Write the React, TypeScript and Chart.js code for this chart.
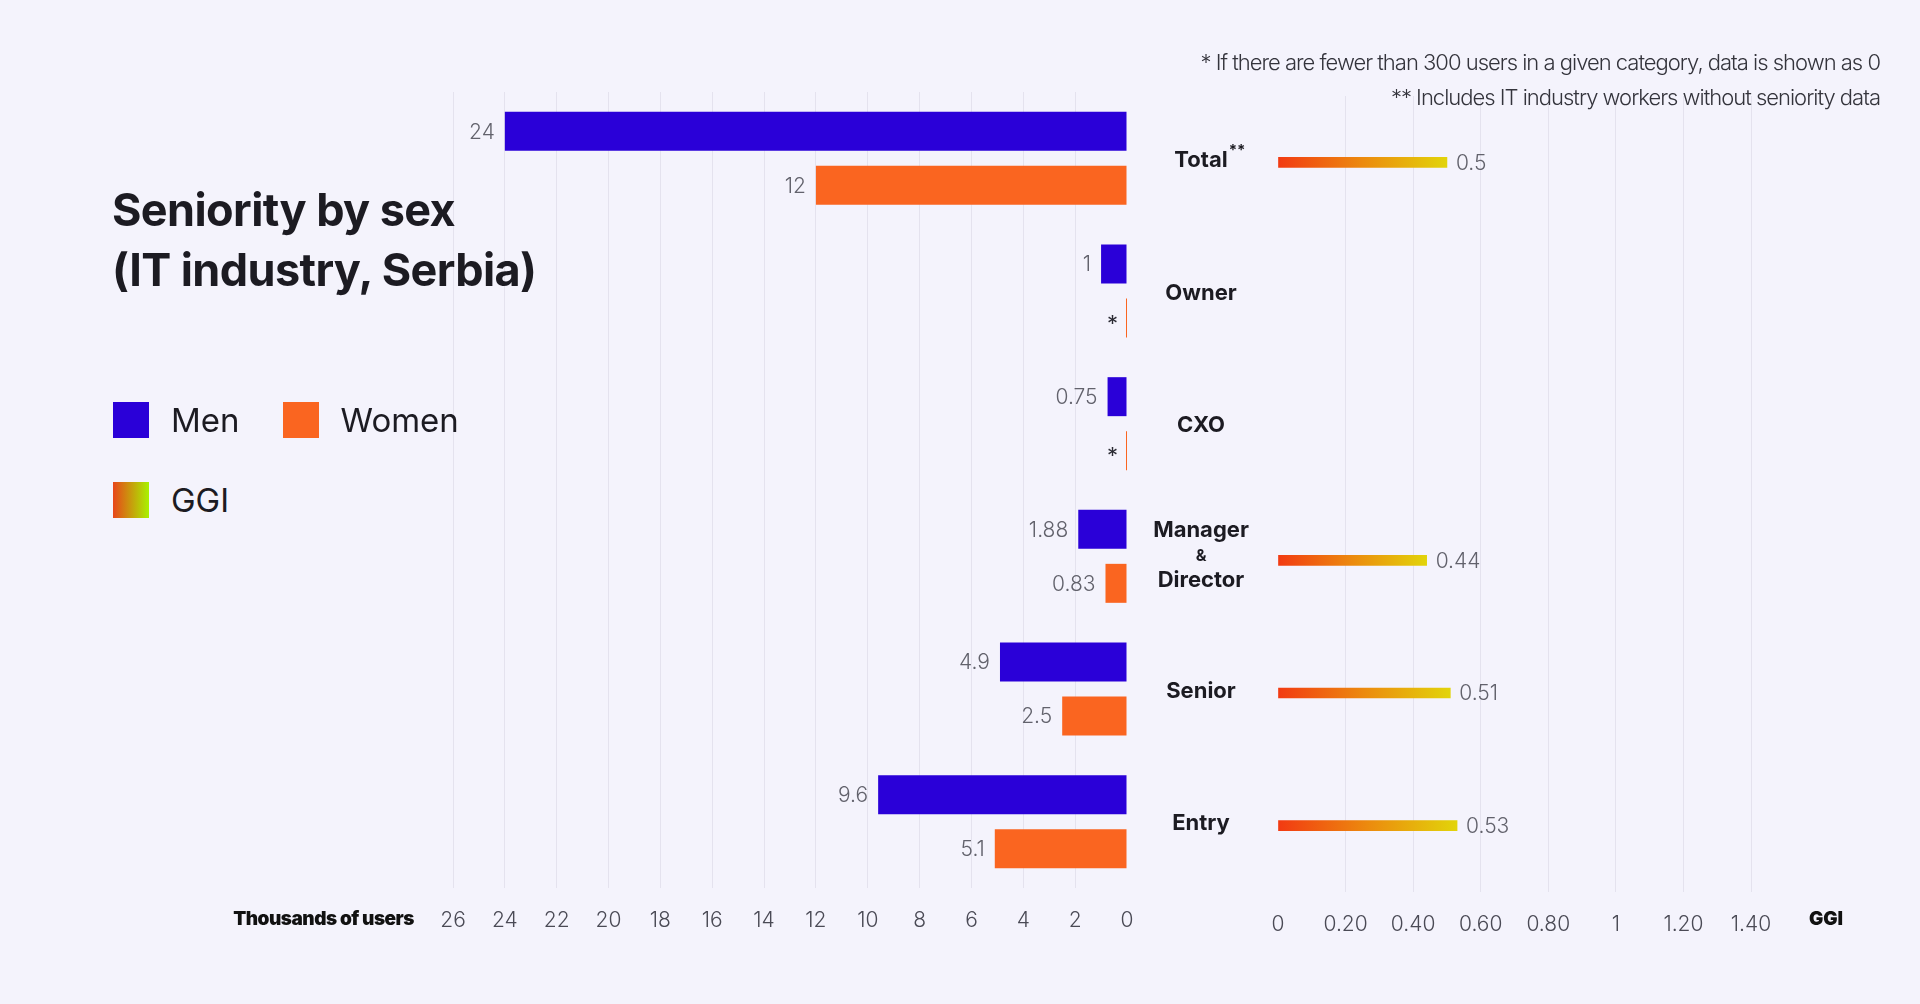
import React, { useEffect, useRef } from 'react';
import { Chart, registerables } from 'chart.js';

Chart.register(...registerables);

const categories = ['Total', 'Owner', 'CXO', 'Manager & Director', 'Senior', 'Entry'];
const categoryLines = [['Total'], ['Owner'], ['CXO'], ['Manager', '&', 'Director'], ['Senior'], ['Entry']];

const menValues = [24, 1, 0.75, 1.88, 4.9, 9.6];
const womenValues = [12, 0, 0, 0.83, 2.5, 5.1];
const menLabels = ['24', '1', '0.75', '1.88', '4.9', '9.6'];
const womenLabels = ['12', '*', '*', '0.83', '2.5', '5.1'];

const ggiValues = [0.5, null, null, 0.44, 0.51, 0.53];
const ggiLabels = ['0.5', '', '', '0.44', '0.51', '0.53'];

const userTickLabels = ['0', '2', '4', '6', '8', '10', '12', '14', '16', '18', '20', '22', '24', '26'];
const ggiTickLabels = ['0', '0.20', '0.40', '0.60', '0.80', '1', '1.20', '1.40'];

const BG = '#f4f3fc';
const GRID = '#e4e2ee';
const MEN = '#2a00d8';
const WOMEN = '#fa6520';
const INK = '#1c1b22';
const TICK = '#4a4a55';
const VALUE = '#62626c';

const tickFont = { family: 'Inter', size: 21, weight: '300' as const };

// value labels + category names for the users chart
const usersLabels = {
  id: 'usersLabels',
  afterDatasetsDraw(chart: any) {
    const { ctx, chartArea } = chart;
    ctx.save();
    ctx.textBaseline = 'middle';
    ctx.textAlign = 'right';
    [menLabels, womenLabels].forEach((labels, di) => {
      chart.getDatasetMeta(di).data.forEach((bar: any, i: number) => {
        const t = labels[i];
        if (t === '*') {
          ctx.font = '400 22px Inter';
          ctx.fillStyle = '#2a2a33';
          ctx.fillText(t, bar.x - 10, bar.y + 6);
        } else {
          ctx.font = '300 21px Inter';
          ctx.fillStyle = VALUE;
          ctx.fillText(t, bar.x - 10, bar.y + 1);
        }
      });
    });

    const y = chart.scales.y;
    const cx = chartArea.right + 74;
    ctx.textAlign = 'center';
    ctx.fillStyle = INK;
    categoryLines.forEach((lines, i) => {
      const cy = y.getPixelForValue(i);
      if (lines.length === 1) {
        ctx.font = '700 22px Inter';
        ctx.fillText(lines[0], cx, cy + 2);
        if (i === 0) {
          const w = ctx.measureText(lines[0]).width;
          ctx.font = '700 15px Inter';
          ctx.textAlign = 'left';
          ctx.fillText('**', cx + w / 2 + 1, cy - 8);
          ctx.textAlign = 'center';
        }
      } else {
        const offs = [-26, 0, 24];
        lines.forEach((ln, k) => {
          ctx.font = ln === '&' ? '700 16px Inter' : '700 22px Inter';
          ctx.fillText(ln, cx, cy + offs[k]);
        });
      }
    });
    ctx.restore();
  },
};

const ggiValueLabels = {
  id: 'ggiValueLabels',
  afterDatasetsDraw(chart: any) {
    const { ctx } = chart;
    ctx.save();
    ctx.textBaseline = 'middle';
    ctx.textAlign = 'left';
    ctx.font = '300 21px Inter';
    ctx.fillStyle = VALUE;
    chart.getDatasetMeta(0).data.forEach((bar: any, i: number) => {
      if (ggiValues[i] == null) return;
      ctx.fillText(ggiLabels[i], bar.x + 9, bar.y + 1);
    });
    ctx.restore();
  },
};

const App: React.FC = () => {
  const usersRef = useRef<HTMLCanvasElement | null>(null);
  const ggiRef = useRef<HTMLCanvasElement | null>(null);

  useEffect(() => {
    if (!usersRef.current || !ggiRef.current) return;

    const usersChart = new Chart(usersRef.current, {
      type: 'bar',
      data: {
        labels: categories,
        datasets: [
          {
            label: 'Men',
            data: menValues,
            backgroundColor: MEN,
            categoryPercentage: 0.814,
            barPercentage: 0.722,
          },
          {
            label: 'Women',
            data: womenValues,
            backgroundColor: WOMEN,
            categoryPercentage: 0.814,
            barPercentage: 0.722,
            minBarLength: 2,
          },
        ],
      },
      options: {
        indexAxis: 'y',
        animation: false,
        responsive: true,
        maintainAspectRatio: false,
        layout: { padding: { left: 73, right: 133, top: 92, bottom: 76 } },
        plugins: { legend: { display: false }, tooltip: { enabled: false } },
        scales: {
          x: {
            reverse: true,
            min: 0,
            max: 26,
            afterFit: (s: any) => { s.height = 40; },
            grid: {
              color: (c: any) => (c.tick && c.tick.value === 0 ? 'rgba(0,0,0,0)' : GRID),
              drawTicks: false,
            },
            border: { display: false },
            ticks: {
              stepSize: 2,
              autoSkip: false,
              maxRotation: 0,
              padding: 20,
              color: TICK,
              font: tickFont,
              callback: (v: any) => userTickLabels[Math.round(Number(v) / 2)],
            },
          },
          y: { display: false },
        },
      },
      plugins: [usersLabels],
    });

    const ggiChart = new Chart(ggiRef.current, {
      type: 'bar',
      data: {
        labels: categories,
        datasets: [
          {
            label: 'GGI',
            data: ggiValues,
            barThickness: 10,
            backgroundColor: (c: any) => {
              const chart = c.chart;
              const x = chart.scales && chart.scales.x;
              const v = ggiValues[c.dataIndex];
              if (!x || v == null) return '#ec8a0e';
              const x0 = x.getPixelForValue(0);
              const x1 = x.getPixelForValue(v);
              if (!isFinite(x0) || !isFinite(x1) || x1 <= x0) return '#ec8a0e';
              const g = chart.ctx.createLinearGradient(x0, 0, x1, 0);
              g.addColorStop(0, '#f23a12');
              g.addColorStop(0.5, '#ec8a0e');
              g.addColorStop(1, '#e2d40a');
              return g;
            },
          },
        ],
      },
      options: {
        indexAxis: 'y',
        animation: false,
        responsive: true,
        maintainAspectRatio: false,
        layout: { padding: { left: 78, right: 169, top: 96, bottom: 72 } },
        plugins: { legend: { display: false }, tooltip: { enabled: false } },
        scales: {
          x: {
            min: 0,
            max: 1.4,
            afterFit: (s: any) => { s.height = 40; },
            grid: {
              color: (c: any) => (c.tick && c.tick.value === 0 ? 'rgba(0,0,0,0)' : GRID),
              drawTicks: false,
            },
            border: { display: false },
            ticks: {
              stepSize: 0.2,
              autoSkip: false,
              maxRotation: 0,
              padding: 20,
              color: TICK,
              font: tickFont,
              callback: (v: any) => ggiTickLabels[Math.round(Number(v) / 0.2)],
            },
          },
          y: { display: false },
        },
      },
      plugins: [ggiValueLabels],
    });

    return () => {
      usersChart.destroy();
      ggiChart.destroy();
    };
  }, []);

  const swatch = { width: 36, height: 36, display: 'inline-block' };
  const legendText = { fontSize: 33, color: INK, marginLeft: 22 };

  return (
    <div
      style={{
        position: 'absolute',
        left: 0,
        top: 0,
        width: 1920,
        height: 1004,
        background: BG,
        overflow: 'hidden',
        fontFamily: 'Inter, "Noto Sans", sans-serif',
      }}
    >
      <div style={{ position: 'absolute', left: 380, top: 0, width: 880, height: 1004 }}>
        <canvas ref={usersRef} />
      </div>
      <div style={{ position: 'absolute', left: 1200, top: 0, width: 720, height: 1004 }}>
        <canvas ref={ggiRef} />
      </div>

      <div
        style={{
          position: 'absolute',
          right: 40,
          top: 45,
          textAlign: 'right',
          fontSize: 22,
          fontWeight: 300,
          lineHeight: '35px',
          letterSpacing: '-1px',
          color: '#34343c',
        }}
      >
        <div>* If there are fewer than 300 users in a given category, data is shown as 0</div>
        <div>** Includes IT industry workers without seniority data</div>
      </div>

      <div
        style={{
          position: 'absolute',
          left: 112,
          top: 180,
          fontSize: 45,
          fontWeight: 700,
          lineHeight: '60px',
          letterSpacing: '-0.6px',
          color: INK,
        }}
      >
        <div>Seniority by sex</div>
        <div>(IT industry, Serbia)</div>
      </div>

      <div style={{ position: 'absolute', left: 113, top: 402, display: 'flex', alignItems: 'center', height: 36 }}>
        <span style={{ ...swatch, background: MEN }} />
        <span style={legendText}>Men</span>
        <span style={{ ...swatch, background: WOMEN, marginLeft: 43 }} />
        <span style={legendText}>Women</span>
      </div>
      <div style={{ position: 'absolute', left: 113, top: 482, display: 'flex', alignItems: 'center', height: 36 }}>
        <span style={{ ...swatch, background: 'linear-gradient(to right, #e8461a, #a8f200)' }} />
        <span style={legendText}>GGI</span>
      </div>

      <div
        style={{
          position: 'absolute',
          right: 1920 - 414,
          top: 906,
          fontSize: 19,
          fontWeight: 900,
          letterSpacing: '-0.5px',
          color: '#111',
          lineHeight: '26px',
        }}
      >
        Thousands of users
      </div>
      <div
        style={{
          position: 'absolute',
          left: 1806,
          width: 40,
          textAlign: 'center',
          top: 906,
          fontSize: 19,
          fontWeight: 900,
          color: '#111',
          lineHeight: '26px',
        }}
      >
        GGI
      </div>
    </div>
  );
};

export default App;
